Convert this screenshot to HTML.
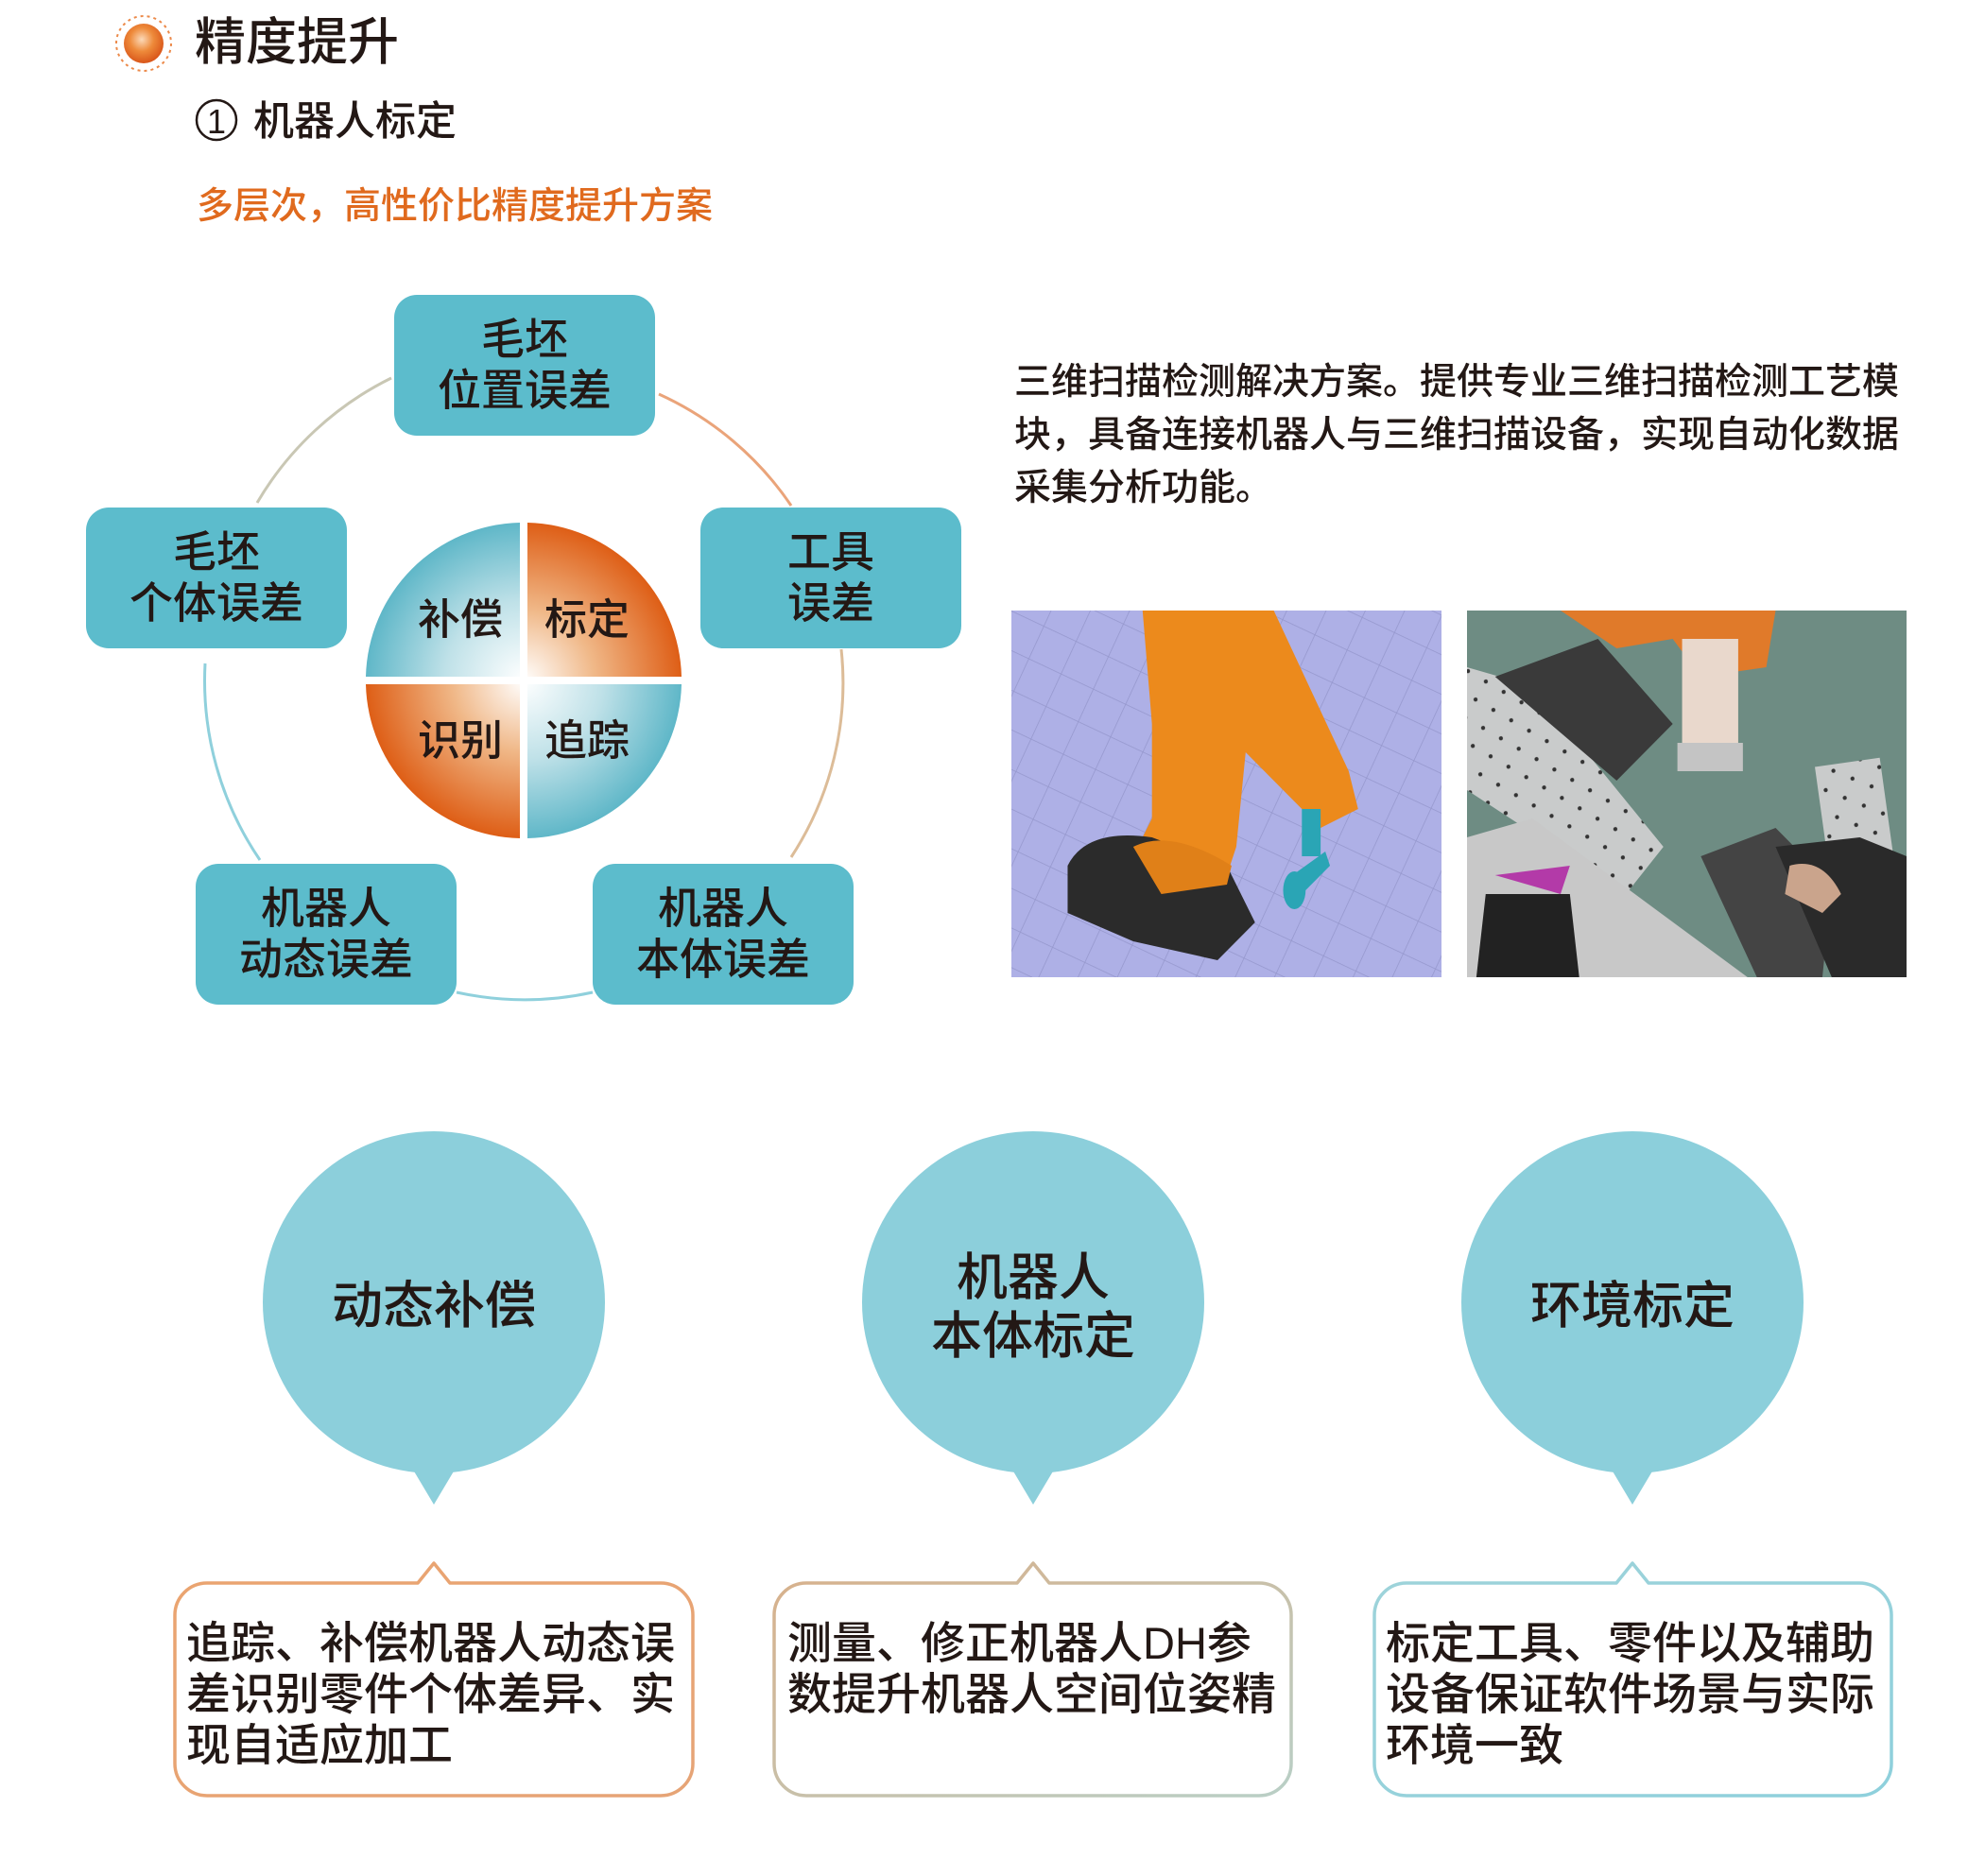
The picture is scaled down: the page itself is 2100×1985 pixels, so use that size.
<!DOCTYPE html>
<html><head><meta charset="utf-8"><style>
html,body{margin:0;padding:0;background:#fff;}
body{width:2100px;height:1980px;overflow:hidden;}
svg text{font-family:"Liberation Sans","Noto Sans CJK SC",sans-serif;font-weight:500;}
</style></head><body>
<svg width="2100" height="1980" viewBox="0 0 2100 1980" xmlns="http://www.w3.org/2000/svg">
<defs>
<radialGradient id="ball" cx="0.45" cy="0.4" r="0.6"><stop offset="0" stop-color="#fbd9b8"/><stop offset="0.5" stop-color="#ee8a3a"/><stop offset="1" stop-color="#d9561a"/></radialGradient>
<radialGradient id="teal" cx="557" cy="723" r="167" gradientUnits="userSpaceOnUse"><stop offset="0" stop-color="#ffffff"/><stop offset="0.5" stop-color="#bfe1e8"/><stop offset="1" stop-color="#5fb7c8"/></radialGradient>
<radialGradient id="oran" cx="557" cy="723" r="167" gradientUnits="userSpaceOnUse"><stop offset="0" stop-color="#ffffff"/><stop offset="0.45" stop-color="#f0b888"/><stop offset="1" stop-color="#de5e16"/></radialGradient>
<linearGradient id="b1" x1="0" y1="0" x2="1" y2="1"><stop offset="0" stop-color="#eaa470"/><stop offset="1" stop-color="#e6a476"/></linearGradient>
<linearGradient id="b2" x1="0" y1="0" x2="1" y2="1"><stop offset="0" stop-color="#d8b08a"/><stop offset="1" stop-color="#b9cfc6"/></linearGradient>
<linearGradient id="b3" x1="0" y1="0" x2="1" y2="1"><stop offset="0" stop-color="#9ed3da"/><stop offset="1" stop-color="#8ed0dc"/></linearGradient>
<pattern id="grid" width="38" height="38" patternUnits="userSpaceOnUse" patternTransform="rotate(25)"><rect width="38" height="38" fill="#aeb0e6"/><path d="M0 0H38M0 0V38" stroke="#9597cc" stroke-width="1.5"/></pattern>
<pattern id="holes" width="22" height="22" patternUnits="userSpaceOnUse" patternTransform="rotate(30)"><rect width="22" height="22" fill="#c9cbcb"/><circle cx="11" cy="11" r="2.2" fill="#333"/></pattern>
</defs>

<!-- header -->
<circle cx="152" cy="46" r="29" fill="none" stroke="#ec8a4a" stroke-width="2" stroke-dasharray="3 4"/>
<circle cx="152" cy="46" r="21" fill="url(#ball)"/>
<text x="206" y="63" font-size="54" fill="#231815">精度提升</text>
<circle cx="229" cy="127" r="21" fill="none" stroke="#231815" stroke-width="2.5"/>
<text x="229" y="141" font-size="36" fill="#231815" text-anchor="middle">1</text>
<text x="268" y="143" font-size="43" fill="#231815">机器人标定</text>
<text x="208" y="231" font-size="39" fill="#e06a1e">多层次，高性价比精度提升方案</text>

<g transform="translate(-3,-3)">
<!-- ring -->
<g fill="none" stroke-width="3">
<path d="M275 535 A337 337 0 0 1 417 403" stroke="#c9c7b4"/>
<path d="M700 420 A337 337 0 0 1 840 538" stroke="#eaa47a"/>
<path d="M893 690 A337 337 0 0 1 840 910" stroke="#dcbc98"/>
<path d="M220 705 A337 337 0 0 0 278 913" stroke="#8fd0dc"/>
<path d="M486 1053 A337 337 0 0 0 630 1053" stroke="#8fd0dc"/>
</g>
<!-- boxes -->
<g fill="#5cbccc">
<rect x="420" y="315" width="276" height="149" rx="24"/>
<rect x="94" y="540" width="276" height="149" rx="24"/>
<rect x="744" y="540" width="276" height="149" rx="24"/>
<rect x="210" y="917" width="276" height="149" rx="24"/>
<rect x="630" y="917" width="276" height="149" rx="24"/>
</g>
<g font-size="46" fill="#231815" text-anchor="middle">
<text x="558" y="378">毛坯</text><text x="558" y="432">位置误差</text>
<text x="232" y="603">毛坯</text><text x="232" y="657">个体误差</text>
<text x="882" y="603">工具</text><text x="882" y="657">误差</text>
<text x="348" y="980">机器人</text><text x="348" y="1034">动态误差</text>
<text x="768" y="980">机器人</text><text x="768" y="1034">本体误差</text>
</g>
<!-- pie -->
<path d="M553 719 V556 A167 167 0 0 0 390 719 Z" fill="url(#teal)"/>
<path d="M561 719 V556 A167 167 0 0 1 724 719 Z" fill="url(#oran)"/>
<path d="M553 727 V890 A167 167 0 0 1 390 727 Z" fill="url(#oran)"/>
<path d="M561 727 V890 A167 167 0 0 0 724 727 Z" fill="url(#teal)"/>
<g font-size="45" fill="#231815" text-anchor="middle">
<text x="490" y="674">补偿</text><text x="624" y="674">标定</text>
<text x="490" y="802">识别</text><text x="624" y="802">追踪</text>
</g>
</g>

<!-- right text -->
<g font-size="39" fill="#231815">
<text x="1073" y="417">三维扫描检测解决方案。提供专业三维扫描检测工艺模</text>
<text x="1073" y="473">块，具备连接机器人与三维扫描设备，实现自动化数据</text>
<text x="1073" y="529">采集分析功能。</text>
</g>

<!-- left image -->
<svg x="1070" y="646" width="455" height="388" viewBox="0 0 459 388" preserveAspectRatio="none">
<rect width="459" height="388" fill="url(#grid)"/>
<path d="M140 0 H280 L360 170 L370 210 L330 230 L250 150 L240 250 L230 280 L150 290 L130 260 L150 220 L150 120 Z" fill="#ec8a1c"/>
<path d="M60 270 Q80 230 150 240 L230 270 L260 330 L220 370 L130 350 L60 320 Z" fill="#2b2b2b"/>
<path d="M130 250 Q170 230 235 270 L230 290 L160 300 Z" fill="#e08018"/>
<rect x="310" y="210" width="20" height="50" fill="#2aa5b5"/>
<path d="M300 280 L335 255 L340 270 L310 300 Z" fill="#2aa5b5"/>
<ellipse cx="302" cy="296" rx="12" ry="20" fill="#2aa5b5"/>
</svg>
<!-- right image -->
<svg x="1552" y="646" width="465" height="388" viewBox="0 0 470 388" preserveAspectRatio="none">
<rect width="470" height="388" fill="#6e8c83"/>
<path d="M0 60 L70 80 L210 250 L170 300 L0 190 Z" fill="url(#holes)"/>
<path d="M30 70 L140 30 L220 120 L160 180 Z" fill="#3a3a3a"/>
<rect x="380" y="160" width="70" height="120" fill="url(#holes)" transform="rotate(-8 415 220)"/>
<path d="M100 0 H330 L320 60 L250 70 L220 30 L160 40 Z" fill="#e07a2a"/>
<rect x="230" y="30" width="60" height="110" fill="#e9d8cc"/>
<rect x="225" y="140" width="70" height="30" fill="#c4c4c4"/>
<path d="M0 240 L70 220 L300 388 H0 Z" fill="#c8c8c8"/>
<path d="M20 300 L110 300 L120 388 H10 Z" fill="#222"/>
<path d="M30 280 L110 270 L100 300 Z" fill="#b33aa8"/>
<path d="M250 260 L330 230 L390 290 L380 388 H310 Z" fill="#444"/>
<path d="M330 250 L420 240 L470 260 V388 H390 Z" fill="#2a2a2a"/>
<path d="M345 270 Q380 260 400 300 L380 320 L340 300 Z" fill="#caa48c"/>
</svg>

<!-- bubbles -->
<g fill="#8ccfdb">
<circle cx="459" cy="1378" r="181"/><path d="M431 1545 L459 1592 L487 1545 Z"/>
<circle cx="1093" cy="1378" r="181"/><path d="M1065 1545 L1093 1592 L1121 1545 Z"/>
<circle cx="1727" cy="1378" r="181"/><path d="M1699 1545 L1727 1592 L1755 1545 Z"/>
</g>
<g font-size="54" fill="#231815" text-anchor="middle">
<text x="459" y="1400">动态补偿</text>
<text x="1093" y="1370">机器人</text><text x="1093" y="1432">本体标定</text>
<text x="1727" y="1400">环境标定</text>
</g>

<!-- text boxes -->
<g fill="#fff" stroke-width="3.5" stroke-linejoin="round">
<path d="M219 1675 H442 L459 1654 L476 1675 H699 A34 34 0 0 1 733 1709 V1866 A34 34 0 0 1 699 1900 H219 A34 34 0 0 1 185 1866 V1709 A34 34 0 0 1 219 1675 Z" stroke="url(#b1)"/>
<path d="M853 1675 H1076 L1093 1654 L1110 1675 H1332 A34 34 0 0 1 1366 1709 V1866 A34 34 0 0 1 1332 1900 H853 A34 34 0 0 1 819 1866 V1709 A34 34 0 0 1 853 1675 Z" stroke="url(#b2)"/>
<path d="M1488 1675 H1710 L1727 1654 L1744 1675 H1967 A34 34 0 0 1 2001 1709 V1866 A34 34 0 0 1 1967 1900 H1488 A34 34 0 0 1 1454 1866 V1709 A34 34 0 0 1 1488 1675 Z" stroke="url(#b3)"/>
</g>
<g font-size="47" fill="#231815">
<text x="197" y="1755">追踪、补偿机器人动态误</text>
<text x="197" y="1809">差识别零件个体差异、实</text>
<text x="197" y="1863">现自适应加工</text>
<text x="833" y="1755">测量、修正机器人DH参</text>
<text x="833" y="1809">数提升机器人空间位姿精</text>
<text x="1466" y="1755">标定工具、零件以及辅助</text>
<text x="1466" y="1809">设备保证软件场景与实际</text>
<text x="1466" y="1863">环境一致</text>
</g>
</svg>
</body></html>
